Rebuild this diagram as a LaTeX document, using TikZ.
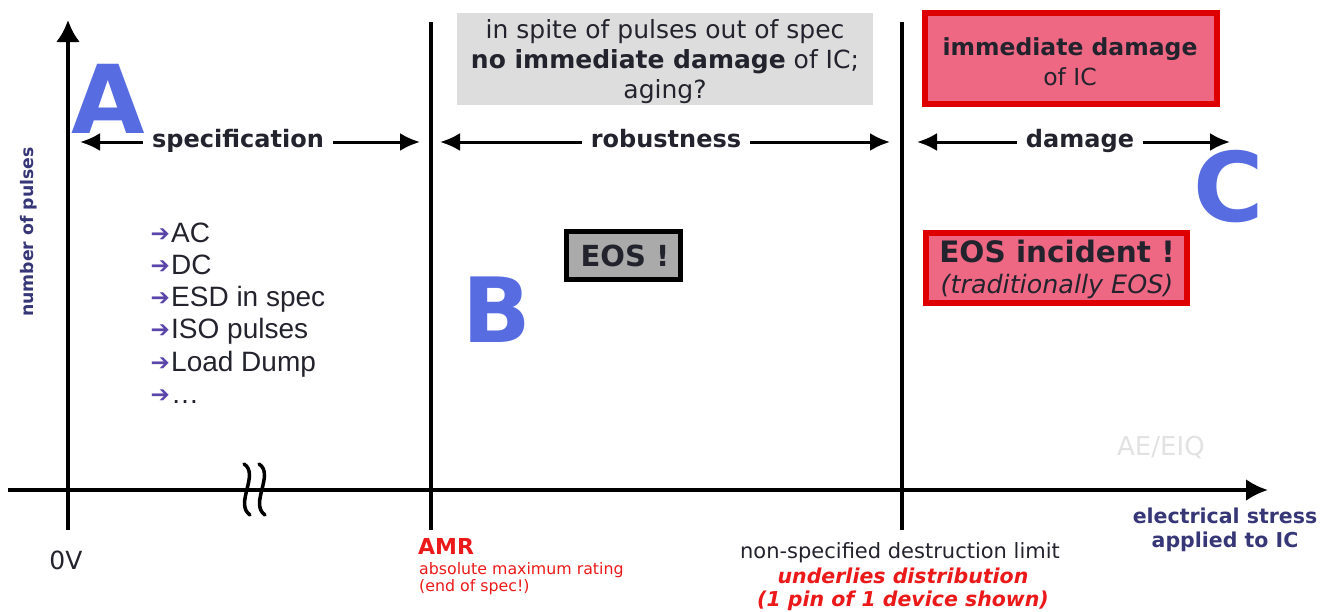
\documentclass[tikz,border=0pt]{standalone}
\usepackage{fontspec}
\setmainfont{DejaVu Sans}
\newfontfamily\arialf{Liberation Sans}
\usetikzlibrary{arrows.meta}
\definecolor{letterblue}{RGB}{88,108,225}
\definecolor{darktext}{RGB}{35,35,45}
\definecolor{navy}{RGB}{55,55,120}
\definecolor{pinkfill}{RGB}{238,104,131}
\definecolor{redline}{RGB}{222,0,0}
\definecolor{redtext}{RGB}{235,25,25}
\definecolor{boxgray}{RGB}{221,221,221}
\definecolor{eosgray}{RGB}{170,170,170}
\definecolor{listarrow}{RGB}{90,70,170}
\definecolor{faint}{RGB}{226,226,226}
\newcommand\fsz[2]{\fontsize{#1pt}{#2pt}\selectfont}
\begin{document}
\begin{tikzpicture}[x=1pt,y=-1pt,
  axisline/.style={line width=4pt,black},
  rowarrow/.style={line width=3pt,{Latex[length=20pt,width=18pt]}-{Latex[length=20pt,width=18pt]}},
  rowlabel/.style={fill=white,inner xsep=9pt,inner ysep=3pt,anchor=base,text=darktext,font=\fsz{24}{28}\bfseries},
  bigletter/.style={anchor=base west,inner sep=0pt,text=letterblue,font=\fsz{90}{90}\bfseries},
  listitem/.style={anchor=base west,inner sep=0pt,text=darktext,font=\arialf\fsz{28}{32}},
  listarr/.style={anchor=base east,inner sep=0pt,text=listarrow,font=\fsz{23}{26}},
  breakmark/.style={line width=3.5pt,black,line cap=round}]
\useasboundingbox (0,0) rectangle (1333,611);

% coordinates
\coordinate (xl) at (8,490);
\coordinate (xr) at (1268,490);
\coordinate (yb) at (68,530);
\coordinate (yt) at (68,20);
\coordinate (amrT) at (431,22);
\coordinate (amrB) at (431,530);
\coordinate (dmgT) at (902,22);
\coordinate (dmgB) at (902,530);

% axes and limits
\draw[axisline,-{Latex[length=22pt,width=22pt]}] (xl) -- (xr);
\draw[axisline,-{Latex[length=22pt,width=24pt]}] (yb) -- (yt);
\draw[axisline] (amrT) -- (amrB);
\draw[axisline] (dmgT) -- (dmgB);

% axis break
\coordinate (b1t) at (244,464);
\coordinate (b1b) at (250,515);
\coordinate (b2t) at (259,464);
\coordinate (b2b) at (265,515);
\draw[breakmark] (b1t) .. controls (260,474) and (234,504) .. (b1b);
\draw[breakmark] (b2t) .. controls (275,474) and (249,504) .. (b2b);

% top boxes
\node[fill=boxgray,minimum width=416pt,minimum height=92pt,inner sep=0pt] (grey) at (665,59) {};
\node[align=center,text=darktext,font=\fsz{25}{30}] (greytxt) at (665,62)
  {in spite of pulses out of spec\\\textbf{no immediate damage} of IC;\\aging?};
\node[fill=pinkfill,draw=redline,line width=6pt,minimum width=292pt,minimum height=91pt,inner sep=0pt] (dmgbox) at (1071,58.5) {};
\node[align=center,text=darktext,font=\fsz{23.5}{30}] (dmgtxt) at (1070,62)
  {\textbf{immediate damage}\\of IC};

% region arrows
\coordinate (sL) at (80,142);
\coordinate (sR) at (420,142);
\coordinate (rL) at (440,142);
\coordinate (rR) at (890,142);
\coordinate (dL) at (917,142);
\coordinate (dR) at (1230,142);
\draw[rowarrow] (sL) -- (sR);
\draw[rowarrow] (rL) -- (rR);
\draw[rowarrow] (dL) -- (dR);
\node[rowlabel] (spec) at (238,147) {specification};
\node[rowlabel] (rob) at (666,147) {robustness};
\node[rowlabel] (dam) at (1080,147) {damage};

% big letters
\node[bigletter,font=\fsz{95}{95}\bfseries] (A) at (71,133) {A};
\node[bigletter] (B) at (462,342) {B};
\node[bigletter,font=\fsz{96}{96}\bfseries] (C) at (1193,221) {C};

% y axis label
\node[rotate=90,text=navy,font=\fsz{17.3}{20}\bfseries] (ylab) at (29,232) {number of pulses};

% list
\node[listitem] (li1) at (171,242) {AC};
\node[listitem] (li2) at (171,274) {DC};
\node[listitem] (li3) at (171,306.5) {ESD in spec};
\node[listitem] (li4) at (171,338.5) {ISO pulses};
\node[listitem] (li5) at (171,371) {Load Dump};
\node[listitem] (li6) at (171,403) {\dots};
\node[listarr] (la1) at (170,241) {➔};
\node[listarr] (la2) at (170,273) {➔};
\node[listarr] (la3) at (170,305.5) {➔};
\node[listarr] (la4) at (170,337.5) {➔};
\node[listarr] (la5) at (170,370) {➔};
\node[listarr] (la6) at (170,402) {➔};

% EOS boxes
\node[fill=eosgray,draw=black,line width=5pt,minimum width=114pt,minimum height=48pt,inner sep=0pt] (eos) at (623.5,255.5) {};
\node[text=darktext,font=\fsz{29}{32}\bfseries] (eostxt) at (625,256) {EOS !};
\node[fill=pinkfill,draw=redline,line width=6pt,minimum width=261pt,minimum height=70pt,inner sep=0pt] (inc) at (1056.5,268) {};
\node[align=center,text=darktext,font=\fsz{29.5}{31}] (inctxt) at (1057,269)
  {\textbf{EOS incident !}\\{\fsz{25.4}{28}\itshape (traditionally EOS)}};

% bottom labels
\node[text=darktext,font=\fsz{25}{28},anchor=base] (zero) at (66,569) {0V};
\node[anchor=base west,inner sep=0pt,text=redtext,font=\fsz{22}{24}\bfseries] (amr) at (418,554) {AMR};
\node[anchor=north west,inner sep=0pt,align=left,text=redtext,font=\fsz{15.8}{17}] (amrsub) at (419,562)
  {absolute maximum rating\\(end of spec!)};
\node[anchor=base,inner sep=0pt,text=darktext,font=\fsz{21}{24}] (nsd) at (900,558) {non-specified destruction limit};
\node[anchor=base,inner sep=0pt,text=redtext,font=\fsz{20.5}{24}\bfseries\itshape] (und) at (903,583) {underlies distribution};
\node[anchor=base,inner sep=0pt,text=redtext,font=\fsz{20.5}{24}\bfseries\itshape] (pin) at (903,606) {(1 pin of 1 device shown)};
\node[anchor=base,inner sep=0pt,text=navy,font=\fsz{20.5}{24}\bfseries] (es1) at (1225,523) {electrical stress};
\node[anchor=base,inner sep=0pt,text=navy,font=\fsz{20.5}{24}\bfseries] (es2) at (1225,547) {applied to IC};
\node[anchor=base west,inner sep=0pt,text=faint,font=\fsz{26}{28}] (ae) at (1117,455) {AE/EIQ};
\end{tikzpicture}
\end{document}
